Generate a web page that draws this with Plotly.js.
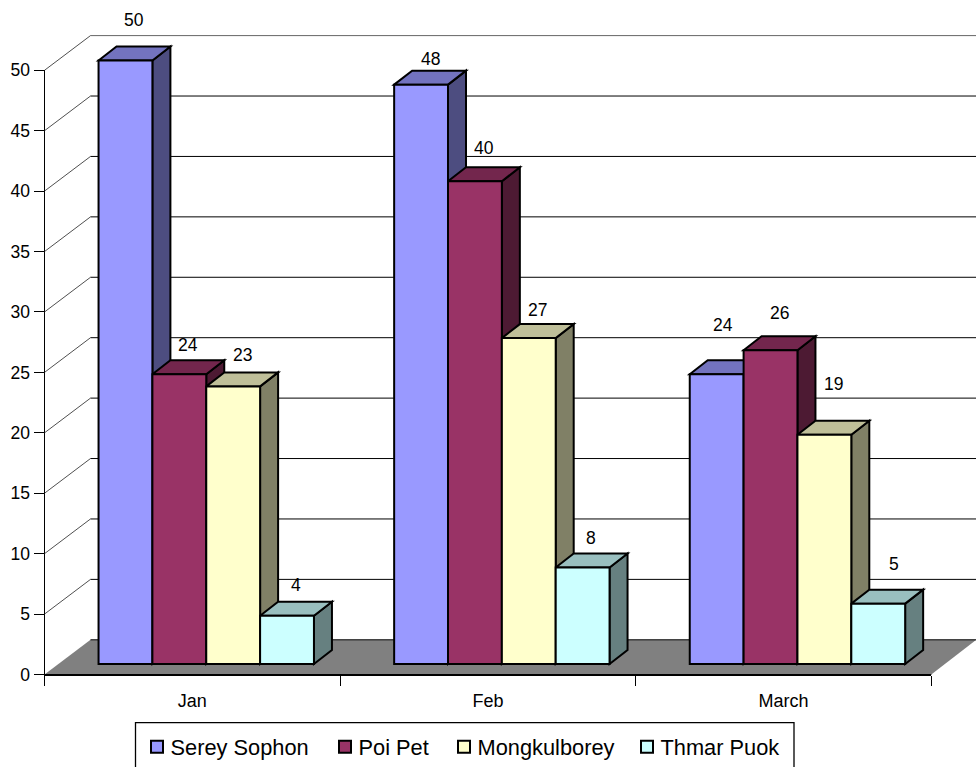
<!DOCTYPE html>
<html>
<head>
<meta charset="utf-8">
<script src="https://cdn.plot.ly/plotly-3.0.1.min.js"></script>
<style>html,body{margin:0;padding:0;background:#fff;overflow:hidden}</style>
</head>
<body>
<div id="chart" style="width:976px;height:767px"></div>
<script>
// ---- data ----
const categories = ['Jan', 'Feb', 'March'];
const serieSerey = [50, 48, 24];
const seriePoiPet = [24, 40, 26];
const serieMongkul = [23, 27, 19];
const serieThmar = [4, 8, 5];
const seriesNames = ['Serey Sophon', 'Poi Pet', 'Mongkulborey', 'Thmar Puok'];
const yTicks = [0, 5, 10, 15, 20, 25, 30, 35, 40, 45, 50];

// ---- styles ----
const frontColors = ['#9999FF', '#993366', '#FFFFCC', '#CCFFFF'];
const topColors = ['#7373BF', '#73264D', '#BFBF99', '#99BFBF'];
const sideColors = ['#4D4D80', '#4D1A33', '#808066', '#668080'];
const FONT = 'Liberation Sans, Arial, sans-serif';
const W = 976, H = 767;
const allSeries = [serieSerey, seriePoiPet, serieMongkul, serieThmar];

// label nudges in px (series x category)
const labelDY = [[27, 15, 17, 17], [12, 19, 14, 15], [35, 23, 37, 26]];
const labelDX = [[0, 0, 0, 0], [0, 0, 0, -1], [-3, 0, 0, 7]];
const legendWidths = [143, 74, 138, 150];

// ---- geometry: bar plane axes (x2/y2) span the whole page ----
const UX = 295.6, UY = 12.07;          // px per category, px per value
const X0 = 206.25, Y0 = 664;           // px of first category centre, px of bar base
const x2Range = [-X0 / UX, (W - X0) / UX];
const y2Range = [-(H - Y0) / UY, Y0 / UY];
const bargap = 0.2713;
const barW = (1 - bargap) / 4;
const depthX = 18 / UX, depthY = 14 / UY;   // depth of a bar
const toX2 = px => (px - X0) / UX;
const toY2 = px => (Y0 - px) / UY;
const axisL = 44.5, axisR = 931.3, axisB = 674.5, axisT = 70.3;
const wallDX = 46, wallDY = 34.7;
const tickPx = v => axisB - (axisB - axisT) * v / 50;
const P = pts => 'M' + pts.map(p => p[0] + ' ' + p[1]).join('L') + 'Z';
const L = (a, b) => 'M' + a[0] + ' ' + a[1] + 'L' + b[0] + ' ' + b[1];
const fx = px => toX2(px), fy = px => toY2(px);

const shapes = [];
const refs = { xref: 'x2', yref: 'y2', layer: 'below', type: 'path' };
// floor
shapes.push(Object.assign({}, refs, {
  path: P([[fx(axisL), fy(axisB)], [fx(axisR), fy(axisB)], [fx(axisR + wallDX - 1), fy(axisB - wallDY)], [fx(axisL + wallDX), fy(axisB - wallDY)]]),
  fillcolor: '#808080', line: { width: 0 }
}));
shapes.push(Object.assign({}, refs, {
  path: L([fx(axisL), fy(axisB)], [fx(axisR), fy(axisB)]), line: { color: '#000', width: 1.2 }
}));
// wall grid lines
yTicks.forEach(v => {
  const py = tickPx(v);
  shapes.push(Object.assign({}, refs, {
    path: L([fx(axisL + wallDX), fy(py - wallDY)], [fx(W), fy(py - wallDY)]),
    line: { color: v === 50 ? '#666' : '#000', width: 1 }
  }));
  if (v > 0) shapes.push(Object.assign({}, refs, {
    path: L([fx(axisL), fy(py)], [fx(axisL + wallDX), fy(py - wallDY)]),
    line: { color: '#222', width: 0.8 }
  }));
});
// bar side and top faces
const annotations = [];
allSeries.forEach((vals, s) => {
  vals.forEach((v, c) => {
    const xl = c + (s - 2) * barW, xr = xl + barW;
    shapes.push(Object.assign({}, refs, {
      path: P([[xr, 0], [xr + depthX, depthY], [xr + depthX, v + depthY], [xr, v]]),
      fillcolor: sideColors[s], line: { color: '#000', width: 2 }
    }));
    shapes.push(Object.assign({}, refs, {
      path: P([[xl, v], [xl + depthX, v + depthY], [xr + depthX, v + depthY], [xr, v]]),
      fillcolor: topColors[s], line: { color: '#000', width: 2 }
    }));
    annotations.push({
      xref: 'x2', yref: 'y2', x: (xl + xr + depthX) / 2, y: v + depthY, text: String(v),
      showarrow: false, xanchor: 'center', yanchor: 'middle',
      xshift: labelDX[c][s], yshift: labelDY[c][s],
      font: { family: FONT, size: 17.5, color: '#000' }
    });
  });
});
// legend frame (runs off the bottom of the page)
shapes.push({
  type: 'rect', xref: 'paper', yref: 'paper', layer: 'above',
  x0: 135.5 / W, x1: 794 / W, y0: -0.02, y1: 1 - 722.7 / H,
  line: { color: '#000', width: 1.3 }, fillcolor: 'rgba(0,0,0,0)'
});

const traces = [{
  type: 'scatter', x: categories, y: [0, 0, 0], xaxis: 'x', yaxis: 'y', mode: 'markers',
  marker: { opacity: 0 }, showlegend: false, hoverinfo: 'skip'
}];
allSeries.forEach((vals, s) => traces.push({
  type: 'bar', name: seriesNames[s], x: categories, y: vals, xaxis: 'x2', yaxis: 'y2',
  marker: { color: frontColors[s], line: { color: '#000', width: 2 } },
  cliponaxis: false, legendwidth: legendWidths[s], hoverinfo: 'name+y'
}));

const layout = {
  width: W, height: H,
  margin: { l: 0, r: 0, t: 0, b: 0, pad: 0 },
  paper_bgcolor: '#fff', plot_bgcolor: 'rgba(0,0,0,0)',
  font: { family: FONT, size: 17.5, color: '#000' },
  barmode: 'group', bargap: bargap, bargroupgap: 0,
  xaxis: {
    domain: [axisL / W, axisR / W], type: 'category', categoryorder: 'array', categoryarray: categories,
    range: [-0.5, 2.5], tickson: 'boundaries', ticks: 'outside', ticklen: 10, tickwidth: 1, tickcolor: '#000',
    ticklabelstandoff: 10,
    showline: true, linecolor: '#000', linewidth: 1, showgrid: false, zeroline: false, anchor: 'y',
    tickfont: { family: FONT, size: 18, color: '#000' }, fixedrange: true
  },
  yaxis: {
    domain: [1 - axisB / H, 1 - axisT / H], range: [0, 50], tickmode: 'array', tickvals: yTicks,
    ticks: 'outside', ticklen: 10, tickwidth: 1, tickcolor: '#000',
    showline: true, linecolor: '#000', linewidth: 1, showgrid: false, zeroline: false, anchor: 'x',
    tickfont: { family: FONT, size: 17.5, color: '#000' }, fixedrange: true
  },
  xaxis2: {
    domain: [0, 1], type: 'category', categoryorder: 'array', categoryarray: categories,
    range: x2Range, visible: false, anchor: 'y2', fixedrange: true
  },
  yaxis2: {
    domain: [0, 1], range: y2Range, visible: false, anchor: 'x2', fixedrange: true
  },
  shapes: shapes,
  annotations: annotations,
  showlegend: true,
  legend: {
    orientation: 'h',
    x: 137 / W, xanchor: 'left', y: 25 / H, yanchor: 'middle',
    bgcolor: 'rgba(0,0,0,0)', borderwidth: 0, itemclick: false, itemdoubleclick: false,
    font: { family: FONT, size: 21.8, color: '#000' }
  }
};
Plotly.newPlot('chart', traces, layout, { displayModeBar: false, responsive: false }).then(() => {
  document.querySelectorAll('.legendtext').forEach(t => t.setAttribute('x', 33.5));
  const lg = document.querySelector('.legend');
  const m = /translate\(([-\d.]+)[ ,]+([-\d.]+)\)/.exec(lg.getAttribute('transform'));
  if (m) lg.setAttribute('transform', 'translate(' + m[1] + ',' + (parseFloat(m[2]) + 5) + ')');
});
</script>
</body>
</html>
